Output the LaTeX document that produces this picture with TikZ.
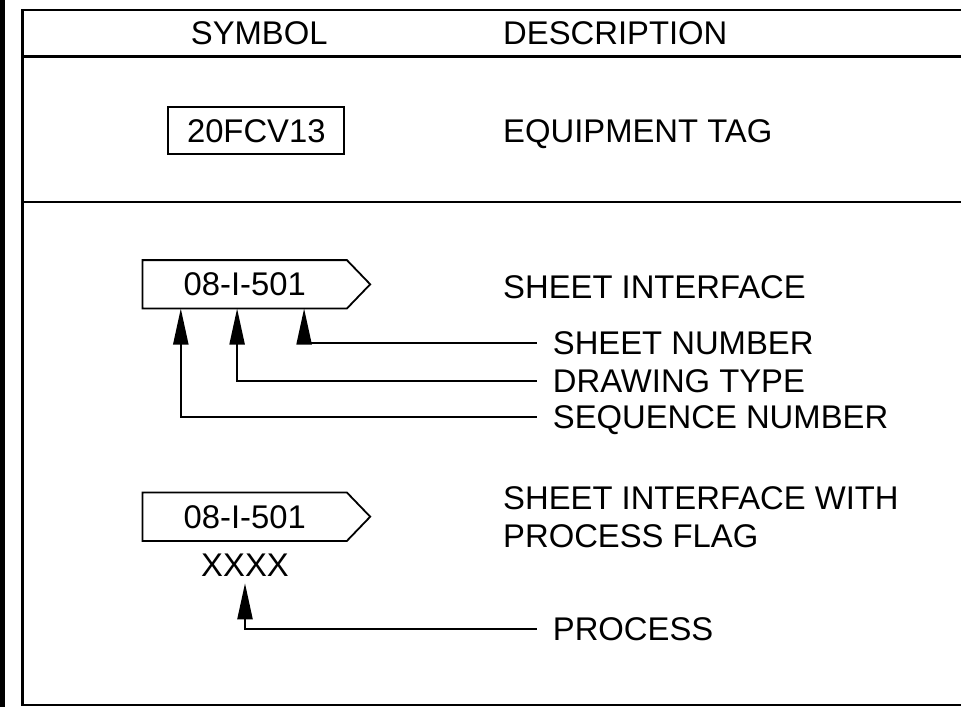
\documentclass[tikz,border=0pt]{standalone}
\usepackage{fontspec}
\setmainfont{Liberation Sans}
\usetikzlibrary{arrows.meta,positioning}

\begin{document}
\begin{tikzpicture}[
    x=1pt, y=-1pt,
    every node/.style={font=\fontsize{32.8}{38.4}\selectfont, inner sep=0pt, text height=23.3pt, text depth=0pt},
    frame/.style={line width=2.6pt},
    tagbox/.style={draw, line width=1.8pt, minimum width=176pt, minimum height=47.6pt},
    ifbox/.style={minimum width=204pt, minimum height=48pt},
    outline/.style={line width=1.8pt, line join=miter},
    desc/.style={anchor=west},
    callout/.style={anchor=west, inner xsep=16pt},
    pointer/.style={-{Triangle[length=36pt,width=15pt]}, line width=2.2pt}
]
\useasboundingbox (0,0) rectangle (961,707);
\clip (0,0) rectangle (961,707);
\fill (0,0) rectangle (4.5,707);
\draw[frame] (975,10) -| (22.7,705) -- (975,705);
\draw[frame] (22.7,56.7) -- (975,56.7);
\draw[frame] (22.7,202) -- (975,202);

% header
\node[desc] (symhead) at (190.7,33.3) {SYMBOL};
\node[desc] (deschead) at (503,33.3) {DESCRIPTION};

% equipment tag
\node[tagbox] (tag) at (256.3,130.5) {20FCV13};
\node[desc] (tagdesc) at (503,130.5) {EQUIPMENT TAG};

% sheet interface
\node[ifbox] (sif) at (244.7,284.3) {08-I-501};
\draw[outline] (sif.north west) -- (sif.north east) -- ([xshift=23.3pt]sif.east) -- (sif.south east) -- (sif.south west) -- cycle;
\node[desc] (sifdesc) at (503,287) {SHEET INTERFACE};
\node[callout] (shtno) at (536.7,342.7) {SHEET NUMBER};
\node[callout] (dwgtype) at (536.7,381) {DRAWING TYPE};
\node[callout] (seqno) at (536.7,416.7) {SEQUENCE NUMBER};
\draw[pointer] (shtno.west) -| ([xshift=161.6pt]sif.south west);
\draw[pointer] (dwgtype.west) -| ([xshift=94.6pt]sif.south west);
\draw[pointer] (seqno.west) -| ([xshift=38.3pt]sif.south west);

% sheet interface with process flag
\node[ifbox] (sifpf) at (244.7,516.7) {08-I-501};
\draw[outline] (sifpf.north west) -- (sifpf.north east) -- ([xshift=23.3pt]sifpf.east) -- (sifpf.south east) -- (sifpf.south west) -- cycle;
\node[desc] (pfdesc1) at (503,497.7) {SHEET INTERFACE WITH};
\node[desc] (pfdesc2) at (503,536.1) {PROCESS FLAG};
\node (flag) at (245,565.1) {XXXX};
\node[callout] (proc) at (536.7,629.3) {PROCESS};
\draw[pointer] (proc.west) -| ([yshift=-6.3pt]flag.south);
\end{tikzpicture}
\end{document}
